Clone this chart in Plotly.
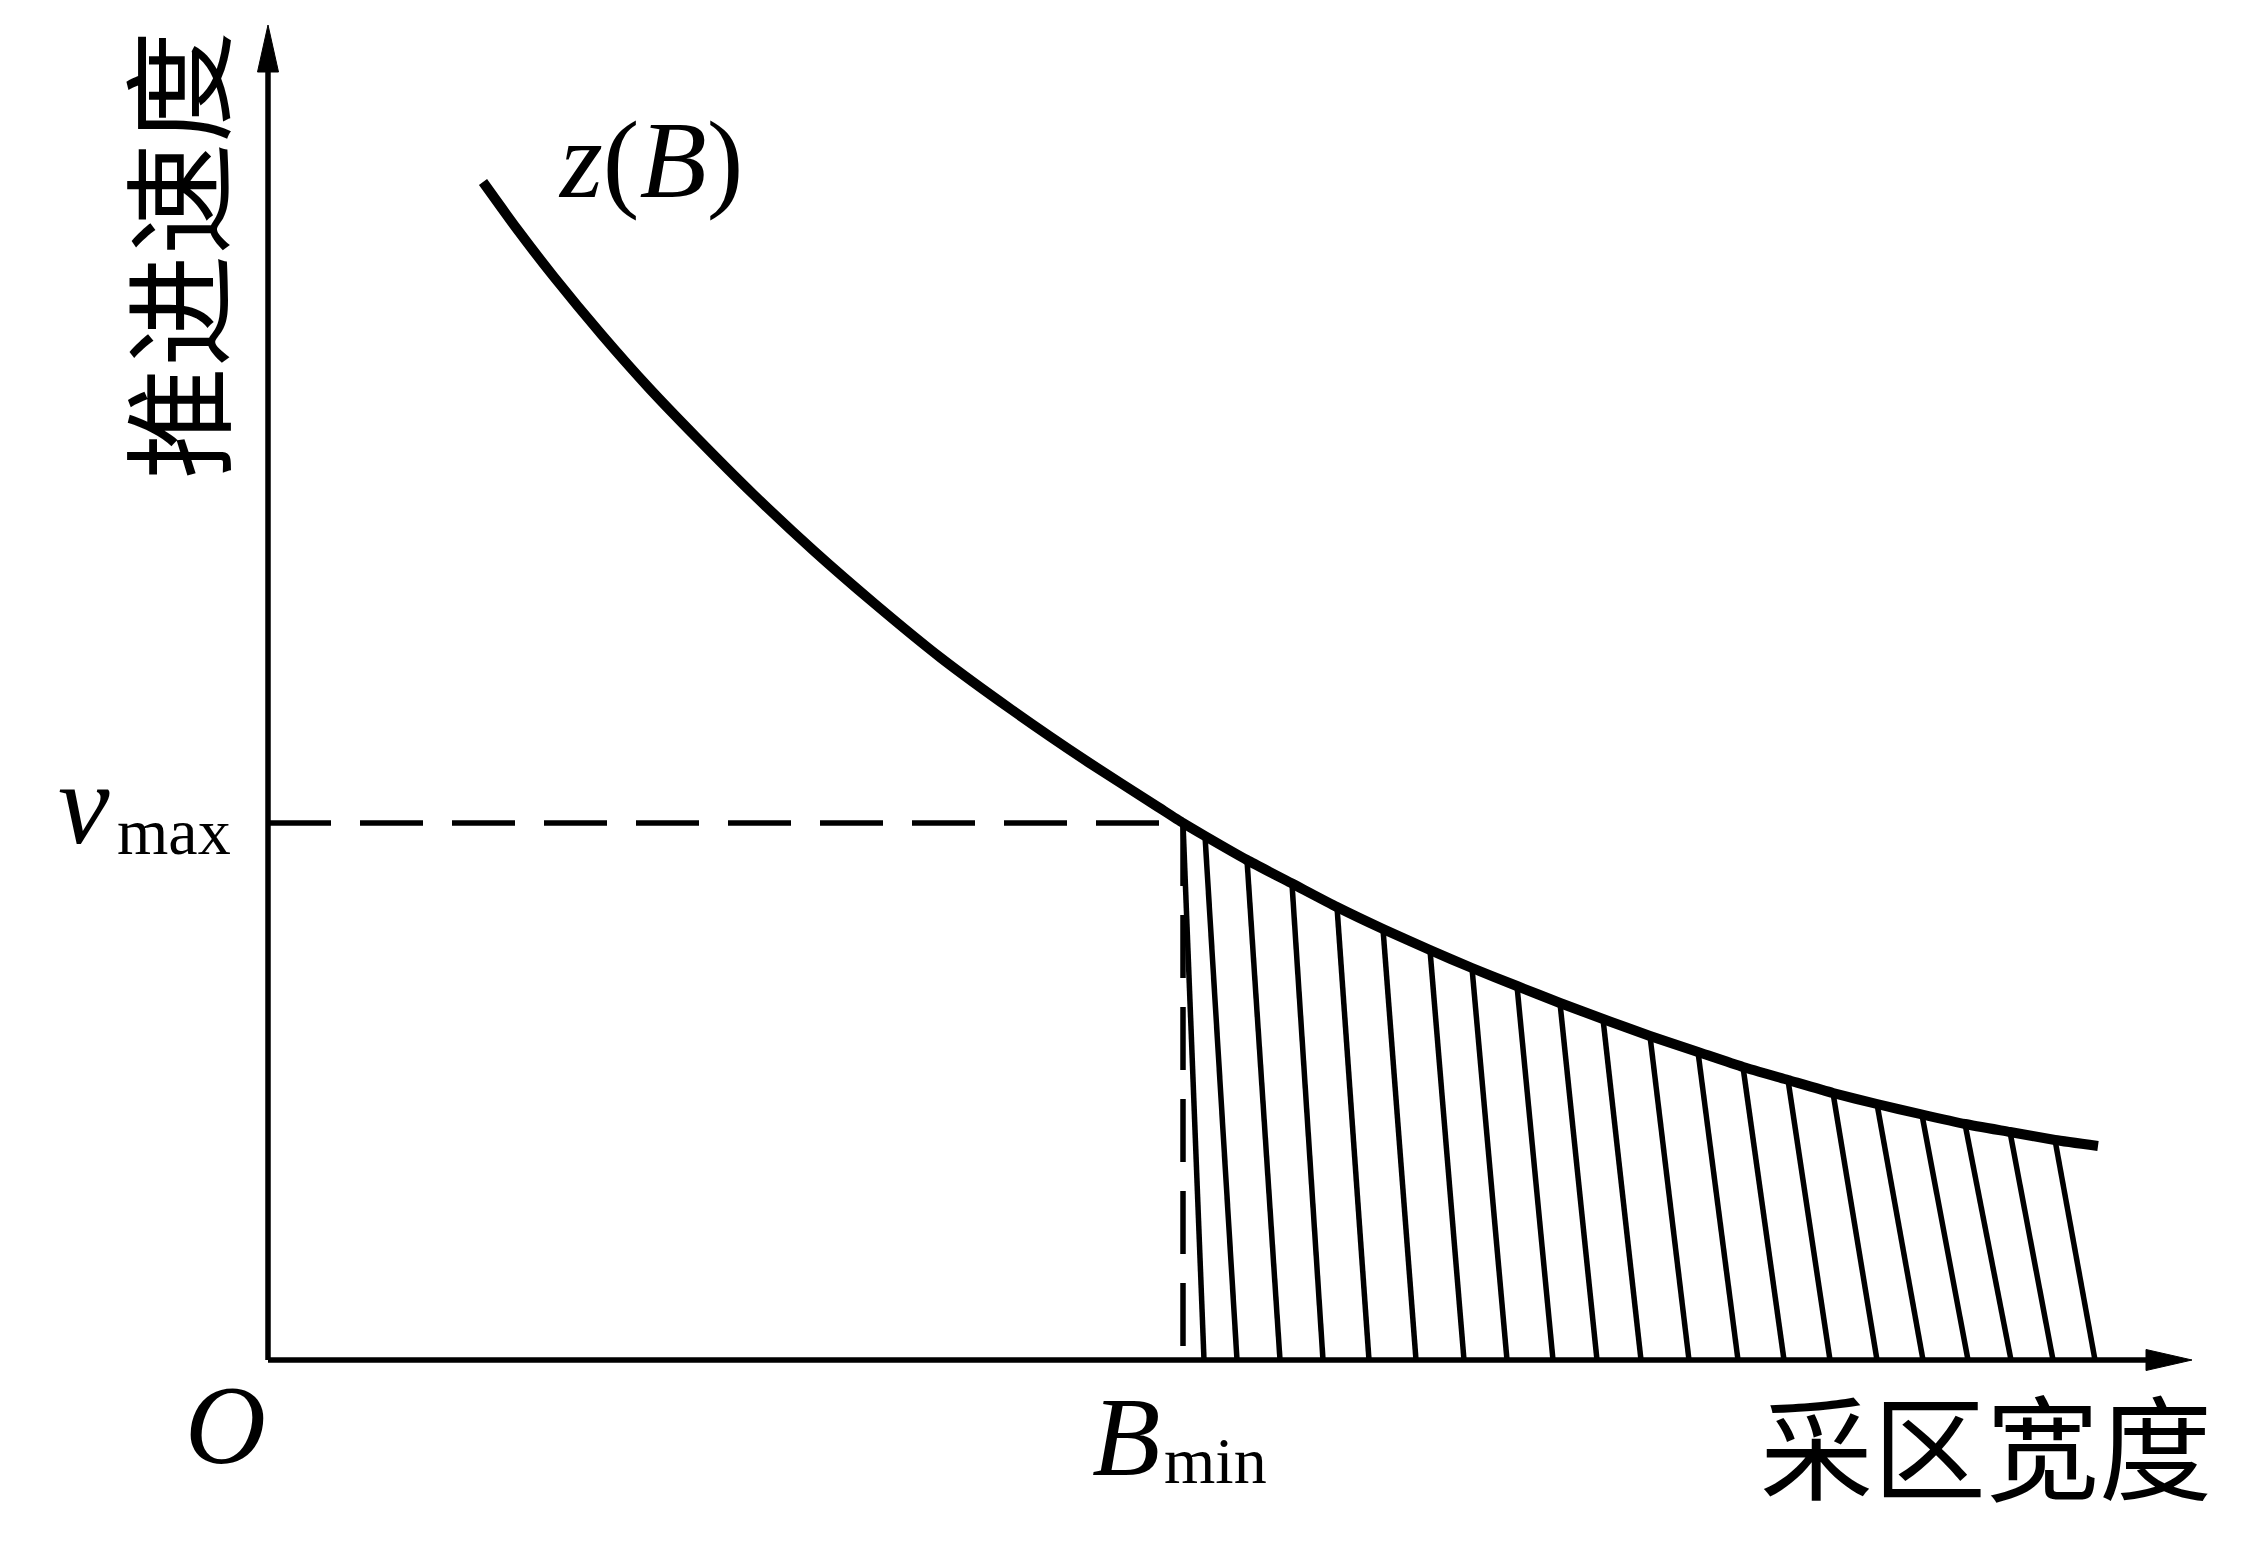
import plotly.graph_objects as go

# ---------------- data (schematic units, origin at O) ----------------
curve_B = [2.15, 2.49, 2.86, 3.34, 3.81, 4.28, 4.85, 5.46, 6.07, 6.73, 7.44, 8.20, 8.90,
           9.15, 9.37, 9.79, 10.25, 10.69, 11.15, 11.62, 12.04, 12.49, 12.92, 13.35,
           13.82, 14.30, 14.75, 15.20, 15.65, 16.09, 16.52, 16.97, 17.42, 17.87, 18.30]
curve_z = [11.78, 11.31, 10.83, 10.25, 9.72, 9.23, 8.66, 8.09, 7.56, 7.02, 6.50, 5.98, 5.53,
           5.37, 5.24, 5.00, 4.76, 4.53, 4.31, 4.10, 3.92, 3.74, 3.57, 3.41,
           3.24, 3.08, 2.93, 2.80, 2.67, 2.56, 2.46, 2.36, 2.28, 2.20, 2.14]

v_max = 5.37
B_min = 9.15
dash_bottom = 0.10

hatch_top_B = [9.15, 9.37, 9.79, 10.24, 10.69, 11.15, 11.62, 12.04, 12.49, 12.92, 13.35,
               13.82, 14.30, 14.75, 15.20, 15.65, 16.09, 16.54, 16.97, 17.42, 17.87]
hatch_top_z = [5.37, 5.24, 5.00, 4.76, 4.53, 4.31, 4.10, 3.92, 3.74, 3.57, 3.41,
               3.24, 3.08, 2.93, 2.80, 2.67, 2.56, 2.45, 2.36, 2.28, 2.20]
hatch_bottom_B = [9.36, 9.69, 10.12, 10.55, 11.01, 11.48, 11.96, 12.39, 12.85, 13.29, 13.73,
                  14.21, 14.70, 15.16, 15.62, 16.09, 16.55, 17.00, 17.43, 17.85, 18.27]

x_axis_end = 19.24
y_axis_end = 13.35

x_title = "采区宽度"
y_title = "推进速度"
curve_label = "<i>z</i>(<i>B</i>)"
origin_label = "<i>O</i>"

# ---------------- style ----------------
BLACK = "black"
SERIF = "Liberation Serif, Times New Roman, serif"
CJK = "Noto Sans CJK SC"
head_len_y, head_half_y = 0.47, 0.105
head_len_x, head_half_x = 0.46, 0.105

fig = go.Figure()

# hatch lines
hx, hy = [], []
for bt, zt, bb in zip(hatch_top_B, hatch_top_z, hatch_bottom_B):
    hx += [bt, bb, None]
    hy += [zt, 0, None]
fig.add_trace(go.Scatter(x=hx, y=hy, mode="lines",
                         line=dict(color=BLACK, width=5.5), hoverinfo="skip"))

# dashed guide lines
fig.add_trace(go.Scatter(x=[0, B_min], y=[v_max, v_max], mode="lines",
                         line=dict(color=BLACK, width=5.5, dash="63px,29px"), hoverinfo="skip"))
fig.add_trace(go.Scatter(x=[B_min, B_min], y=[v_max, dash_bottom], mode="lines",
                         line=dict(color=BLACK, width=5.5, dash="63px,29px"), hoverinfo="skip"))

# axes
fig.add_trace(go.Scatter(x=[0, 0], y=[0, y_axis_end - head_len_y], mode="lines",
                         line=dict(color=BLACK, width=5.5), hoverinfo="skip"))
fig.add_trace(go.Scatter(x=[0, x_axis_end - head_len_x], y=[0, 0], mode="lines",
                         line=dict(color=BLACK, width=5.5), hoverinfo="skip"))
# arrow heads
fig.add_trace(go.Scatter(x=[-head_half_y, 0, head_half_y, -head_half_y],
                         y=[y_axis_end - head_len_y, y_axis_end, y_axis_end - head_len_y, y_axis_end - head_len_y],
                         mode="lines", fill="toself", fillcolor=BLACK,
                         line=dict(color=BLACK, width=1), hoverinfo="skip"))
fig.add_trace(go.Scatter(x=[x_axis_end - head_len_x, x_axis_end, x_axis_end - head_len_x, x_axis_end - head_len_x],
                         y=[-head_half_x, 0, head_half_x, -head_half_x],
                         mode="lines", fill="toself", fillcolor=BLACK,
                         line=dict(color=BLACK, width=1), hoverinfo="skip"))

# curve z(B)
fig.add_trace(go.Scatter(x=curve_B, y=curve_z, mode="lines",
                         line=dict(color=BLACK, width=10, shape="spline", smoothing=0.5),
                         hoverinfo="skip"))

ann = []
def label(x, y, text, size, font=SERIF, xanchor="center", yanchor="middle", angle=0):
    ann.append(dict(x=x, y=y, xref="x", yref="y", text=text, showarrow=False,
                    xanchor=xanchor, yanchor=yanchor, textangle=angle,
                    font=dict(family=font, size=size, color=BLACK)))

label(3.82, 12.00, curve_label, 110)
label(-1.56, v_max + 0.19, "<i>v</i>", 116, xanchor="right")
label(-1.53, v_max - 0.08, "max", 66, xanchor="left")
label(-0.43, -0.65, origin_label, 112)
label(B_min - 0.57, -0.77, "<i>B</i>", 112)
label(B_min - 0.21, -1.00, "min", 66, xanchor="left")
label(17.18, -0.82, x_title, 113, font=CJK)
label(-0.95, 11.05, y_title, 112, font=CJK, angle=-90)

# page body has an 8px margin: size and ranges chosen so data origin sits at the reference spot
W, H = 2243, 1533
fig.update_layout(
    width=W, height=H, autosize=False,
    margin=dict(l=0, r=0, t=0, b=0),
    paper_bgcolor="white", plot_bgcolor="white",
    showlegend=False, annotations=ann,
    xaxis=dict(range=[-2.60, -2.60 + W / 100], visible=False, fixedrange=True),
    yaxis=dict(range=[13.52 - H / 100, 13.52], visible=False, fixedrange=True),
)

fig.write_html("out.html", config={"displayModeBar": False})
